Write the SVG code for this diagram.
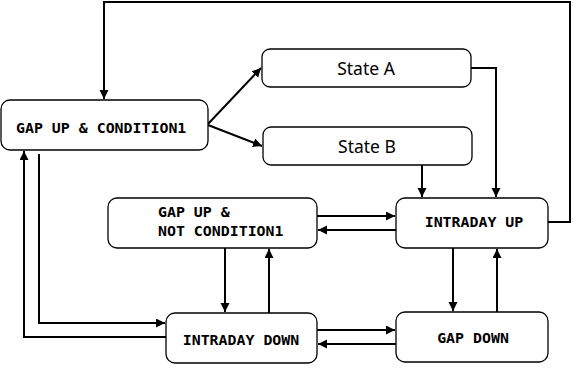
<svg xmlns="http://www.w3.org/2000/svg" width="573" height="382" viewBox="0 0 573 382">
<style>
.box{fill:#fff;stroke:#000;stroke-width:1.3}
.mono{font-family:"DejaVu Sans Mono","Liberation Mono",monospace;font-weight:bold;font-size:14.9px;fill:#000}
.sans{font-family:"Noto Sans","Liberation Sans",sans-serif;font-size:17.5px;fill:#000}
.c{fill:none;stroke:#000;stroke-width:2}
.ca{fill:none;stroke:#000;stroke-width:2;marker-end:url(#ah)}
</style>
<defs>
<marker id="ah" markerUnits="userSpaceOnUse" markerWidth="10" markerHeight="10" refX="9" refY="4.5" orient="auto">
<path d="M0,0 L9,4.5 L0,9 Z" fill="#000"/>
</marker>
</defs>
<rect width="573" height="382" fill="#fff"/>
<g id="connectors">
<polyline class="ca" points="548,222 570,222 570,2 104,2 104,99"/>
<polyline class="ca" points="471,68 496,68 496,197"/>
<polyline class="ca" points="422,165 422,197"/>
<line class="ca" x1="208" y1="124" x2="261" y2="68"/>
<line class="ca" x1="208" y1="125" x2="262" y2="146"/>
<line class="ca" x1="317" y1="216" x2="395" y2="216"/>
<line class="ca" x1="396" y1="230" x2="318" y2="230"/>
<line class="ca" x1="317" y1="330" x2="395" y2="330"/>
<line class="ca" x1="396" y1="344" x2="318" y2="344"/>
<line class="ca" x1="225" y1="248" x2="225" y2="312"/>
<line class="ca" x1="269" y1="313" x2="269" y2="249"/>
<line class="ca" x1="453" y1="248" x2="453" y2="311"/>
<line class="ca" x1="497" y1="312" x2="497" y2="249"/>
<polyline class="ca" points="39,154 39,323 165,323"/>
<polyline class="ca" points="166,337 24,337 24,151"/>
</g>
<g id="gapup_cond1">
<rect class="box" x="1" y="100" width="207" height="50" rx="9"/>
<text class="mono" x="16" y="133">GAP UP &amp; CONDITION1</text>
</g>
<g id="state_a">
<rect class="box" x="262" y="49" width="209" height="38" rx="8"/>
<text class="sans" x="366" y="75" text-anchor="middle">State A</text>
</g>
<g id="state_b">
<rect class="box" x="263" y="127" width="209" height="38" rx="8"/>
<text class="sans" x="367" y="153" text-anchor="middle">State B</text>
</g>
<g id="gapup_notcond1">
<rect class="box" x="108" y="198" width="209" height="50" rx="9"/>
<text class="mono" x="158" y="217">GAP UP &amp;</text>
<text class="mono" x="158" y="236">NOT CONDITION1</text>
</g>
<g id="intraday_up">
<rect class="box" x="396" y="198" width="152" height="50" rx="9"/>
<text class="mono" x="474" y="227" text-anchor="middle">INTRADAY UP</text>
</g>
<g id="intraday_down">
<rect class="box" x="166" y="313" width="151" height="50" rx="9"/>
<text class="mono" x="241" y="345" text-anchor="middle">INTRADAY DOWN</text>
</g>
<g id="gap_down">
<rect class="box" x="396" y="312" width="152" height="50" rx="9"/>
<text class="mono" x="473" y="343" text-anchor="middle">GAP DOWN</text>
</g>
</svg>
